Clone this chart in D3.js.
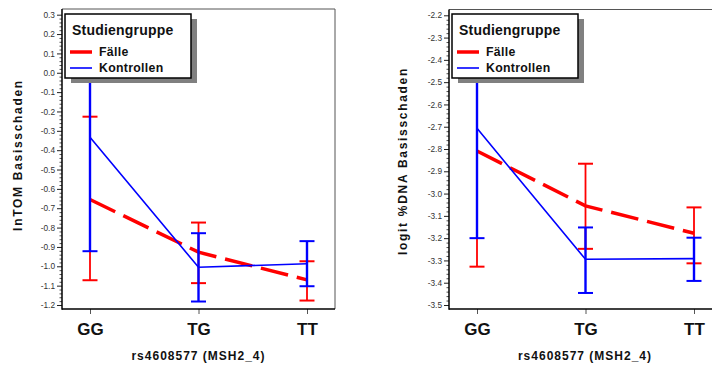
<!DOCTYPE html>
<html><head><meta charset="utf-8">
<script src="https://cdn.jsdelivr.net/npm/d3@7"></script>
<style>
html,body{margin:0;padding:0;background:#fff;}
svg{display:block;font-family:"Liberation Sans",Arial,sans-serif;}
</style></head>
<body>
<svg id="chart" width="712" height="365"></svg>
<script>
// ---------- data ----------
const categories = ["GG", "TG", "TT"];
const seriesNames = ["Fälle", "Kontrollen"];
const legendTitle = "Studiengruppe";
const xTitle = "rs4608577 (MSH2_4)";

// Left panel: lnTOM Basisschaden
const lnFaelle     = [-0.655, -0.927, -1.070];
const lnFaelleLo   = [-1.072, -1.087, -1.177];
const lnFaelleHi   = [-0.227, -0.774, -0.974];
const lnKontr      = [-0.333, -1.005, -0.987];
const lnKontrLo    = [-0.922, -1.182, -1.103];
const lnKontrHi    = [ 0.256, -0.829, -0.870];
const lnTicks = [0.3, 0.2, 0.1, 0.0, -0.1, -0.2, -0.3, -0.4, -0.5, -0.6, -0.7, -0.8, -0.9, -1.0, -1.1, -1.2];

// Right panel: logit %DNA Basisschaden
const dnaFaelle    = [-2.809, -3.055, -3.178];
const dnaFaelleLo  = [-3.328, -3.248, -3.313];
const dnaFaelleHi  = [-2.290, -2.866, -3.062];
const dnaKontr     = [-2.707, -3.295, -3.292];
const dnaKontrLo   = [-3.200, -3.446, -3.392];
const dnaKontrHi   = [-2.214, -3.152, -3.198];
const dnaTicks = [-2.2, -2.3, -2.4, -2.5, -2.6, -2.7, -2.8, -2.9, -3.0, -3.1, -3.2, -3.3, -3.4, -3.5];

const colFaelle = "#ff0000";
const colKontr = "#0000ff";

const svg = d3.select("#chart");

function panel(cfg) {
  const g = svg.append("g");
  const L = cfg.left, T = cfg.top, R = cfg.right, B = cfg.bottom;
  const ticks = cfg.ticks;
  const tMax = d3.max(ticks), tMin = d3.min(ticks);
  const y = d3.scaleLinear().domain([tMin, tMax]).range([cfg.yLo, cfg.yHi]);
  const x = d3.scalePoint().domain(categories).range([L + 28, L + 245]);

  // minor ticks
  const minor = [];
  for (let v = Math.round(tMin * 100); v <= Math.round(tMax * 100); v += 2) {
    if (v % 10 !== 0) minor.push(v / 100);
  }
  const minorAxis = d3.axisLeft(y).tickValues(minor).tickSize(2.5).tickFormat("");
  const gm = g.append("g").attr("transform", `translate(${L},0)`).call(minorAxis);
  gm.select(".domain").remove();
  gm.selectAll("line").attr("stroke", "#222").attr("stroke-width", 0.8);

  const majorAxis = d3.axisLeft(y).tickValues(ticks).tickSize(5).tickPadding(2)
    .tickFormat(d => d.toFixed(1));
  const ga = g.append("g").attr("transform", `translate(${L},0)`).call(majorAxis);
  ga.select(".domain").remove();
  ga.selectAll("line").attr("stroke", "#222").attr("stroke-width", 1);
  ga.selectAll("text").attr("font-size", 8.3).attr("fill", "#333")
    .attr("font-family", "Liberation Sans, Arial, sans-serif");

  // x axis
  const xAxis = d3.axisBottom(x).tickSize(5).tickPadding(9);
  const gx = g.append("g").attr("transform", `translate(0,${B})`).call(xAxis);
  gx.select(".domain").remove();
  gx.selectAll("line").attr("stroke", "#555").attr("stroke-width", 1);
  gx.selectAll("text").attr("font-size", 17).attr("font-weight", "bold").attr("fill", "#111")
    .attr("font-family", "Liberation Sans, Arial, sans-serif");

  // frame
  g.append("line").attr("x1", L).attr("x2", R).attr("y1", T).attr("y2", T).attr("stroke", "#555").attr("stroke-width", 1);
  g.append("line").attr("x1", R).attr("x2", R).attr("y1", T).attr("y2", B).attr("stroke", "#555").attr("stroke-width", 1);
  g.append("line").attr("x1", L).attr("x2", L).attr("y1", T).attr("y2", B + 0.75).attr("stroke", "#000").attr("stroke-width", 1.5);
  g.append("line").attr("x1", L).attr("x2", R).attr("y1", B).attr("y2", B).attr("stroke", "#000").attr("stroke-width", 1.5);

  // series
  const series = [
    { mean: cfg.f, lo: cfg.fLo, hi: cfg.fHi, col: colFaelle, lw: 3.5, dash: "28,9", ew: 1.8 },
    { mean: cfg.k, lo: cfg.kLo, hi: cfg.kHi, col: colKontr, lw: 1.6, dash: null, ew: 2.4 }
  ];
  const line = d3.line().x((d, i) => x(categories[i])).y(d => y(d));
  series.forEach(s => {
    const p = g.append("path").datum(s.mean).attr("d", line)
      .attr("fill", "none").attr("stroke", s.col).attr("stroke-width", s.lw);
    if (s.dash) p.attr("stroke-dasharray", s.dash);
    categories.forEach((c, i) => {
      const cx = x(c);
      g.append("line").attr("x1", cx).attr("x2", cx).attr("y1", y(s.hi[i])).attr("y2", y(s.lo[i]))
        .attr("stroke", s.col).attr("stroke-width", s.ew);
      [s.hi[i], s.lo[i]].forEach(v => {
        g.append("line").attr("x1", cx - 7.5).attr("x2", cx + 7.5).attr("y1", y(v)).attr("y2", y(v))
          .attr("stroke", s.col).attr("stroke-width", 2);
      });
    });
  });

  // legend
  const lx = L + 3, ly = 14, lw = 126, lh = 64;
  g.append("rect").attr("x", lx + 6).attr("y", ly + 5).attr("width", lw).attr("height", lh).attr("fill", "#808080");
  g.append("rect").attr("x", lx).attr("y", ly).attr("width", lw).attr("height", lh)
    .attr("fill", "#fff").attr("stroke", "#000").attr("stroke-width", 1.5);
  g.append("text").attr("x", lx + 7).attr("y", ly + 21).attr("font-size", 14).attr("font-weight", "bold")
    .attr("letter-spacing", 0.2).attr("fill", "#111").text(legendTitle);
  const legendCols = [colFaelle, colKontr];
  const legendW = [3.5, 1.6];
  seriesNames.forEach((n, i) => {
    const yy = ly + 38 + i * 16;
    g.append("line").attr("x1", lx + 5).attr("x2", lx + 27).attr("y1", yy).attr("y2", yy)
      .attr("stroke", legendCols[i]).attr("stroke-width", legendW[i]);
    g.append("text").attr("x", lx + 34).attr("y", yy + 4).attr("font-size", 12.3).attr("font-weight", "bold")
      .attr("letter-spacing", 0.3).attr("fill", "#111").text(n);
  });

  // axis titles
  g.append("text").attr("x", (L + R) / 2).attr("y", 360).attr("text-anchor", "middle")
    .attr("font-size", 12).attr("font-weight", "bold").attr("letter-spacing", 1).attr("fill", "#111").text(xTitle);
  g.append("text").attr("transform", `translate(${cfg.ytX},${cfg.ytY}) rotate(-90)`)
    .attr("text-anchor", "middle").attr("font-size", 12).attr("font-weight", "bold")
    .attr("letter-spacing", 1.7).attr("fill", "#111").text(cfg.yTitle);
}

panel({ left: 62, right: 335, top: 9, bottom: 309, yLo: 305, yHi: 14.7, ticks: lnTicks,
  f: lnFaelle, fLo: lnFaelleLo, fHi: lnFaelleHi, k: lnKontr, kLo: lnKontrLo, kHi: lnKontrHi,
  yTitle: "lnTOM Basisschaden", ytX: 22, ytY: 155 });
panel({ left: 449, right: 721, top: 9.5, bottom: 309, yLo: 305, yHi: 15.3, ticks: dnaTicks,
  f: dnaFaelle, fLo: dnaFaelleLo, fHi: dnaFaelleHi, k: dnaKontr, kLo: dnaKontrLo, kHi: dnaKontrHi,
  yTitle: "logit %DNA Basisschaden", ytX: 407, ytY: 161 });
</script>
</body></html>
